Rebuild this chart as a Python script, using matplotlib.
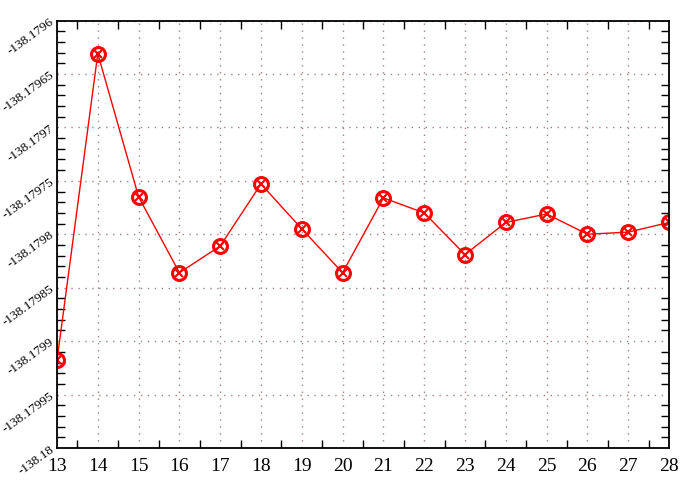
import matplotlib
matplotlib.use("Agg")
import matplotlib.pyplot as plt
from matplotlib.ticker import MultipleLocator, FixedLocator

# data
steps = [13, 14, 15, 16, 17, 18, 19, 20, 21, 22, 23, 24, 25, 26, 27, 28]
values = [-138.179918, -138.179631, -138.179765, -138.179836, -138.179811,
          -138.179753, -138.179795, -138.179836, -138.179766, -138.179780,
          -138.179819, -138.179789, -138.179781, -138.179800, -138.179798,
          -138.179789]

y_ticks = [-138.18, -138.17995, -138.1799, -138.17985, -138.1798,
           -138.17975, -138.1797, -138.17965, -138.1796]
y_labels = ['-138.18', '-138.17995', '-138.1799', '-138.17985', '-138.1798',
            '-138.17975', '-138.1797', '-138.17965', '-138.1796']

plt.rcParams['font.family'] = ['Liberation Serif', 'DejaVu Serif']

fig = plt.figure(figsize=(6.86, 4.83), dpi=100)
ax = fig.add_axes([57 / 686, 35 / 483, 612 / 686, 427.5 / 483])

ax.plot(steps, values, color='red', linewidth=1)
ax.plot(steps, values, linestyle='none', marker='o', markersize=10,
        markerfacecolor='none', markeredgecolor='red', markeredgewidth=2.2)
ax.plot(steps, values, linestyle='none', marker='x', markersize=6,
        markeredgecolor='red', markeredgewidth=1.5)

ax.set_xlim(13, 28)
ax.set_ylim(-138.18, -138.1796)

ax.xaxis.set_major_locator(MultipleLocator(1))
ax.xaxis.set_minor_locator(FixedLocator([s + 0.5 for s in steps[:-1]]))
ax.yaxis.set_major_locator(FixedLocator(y_ticks))
ax.set_yticklabels(y_labels)
minor_y = [-138.18 + i * 0.00001 for i in range(41) if i % 5 != 0]
ax.yaxis.set_minor_locator(FixedLocator(minor_y))

ax.tick_params(which='major', length=0, top=True, right=True)
ax.tick_params(which='minor', direction='in', length=6, width=1,
               top=True, right=True)
ax.tick_params(axis='x', which='major', labelsize=14, pad=7)
ax.tick_params(axis='y', which='major', labelsize=9.5, pad=3)
for lbl in ax.get_yticklabels():
    lbl.set_rotation(36)
    lbl.set_rotation_mode('anchor')
    lbl.set_ha('right')
    lbl.set_va('center')

ax.grid(True, which='major', linestyle=(0, (1, 4)), color='#a08080', linewidth=1)
for sp in ax.spines.values():
    sp.set_linewidth(1.3)

fig.savefig('out.png', dpi=100)
